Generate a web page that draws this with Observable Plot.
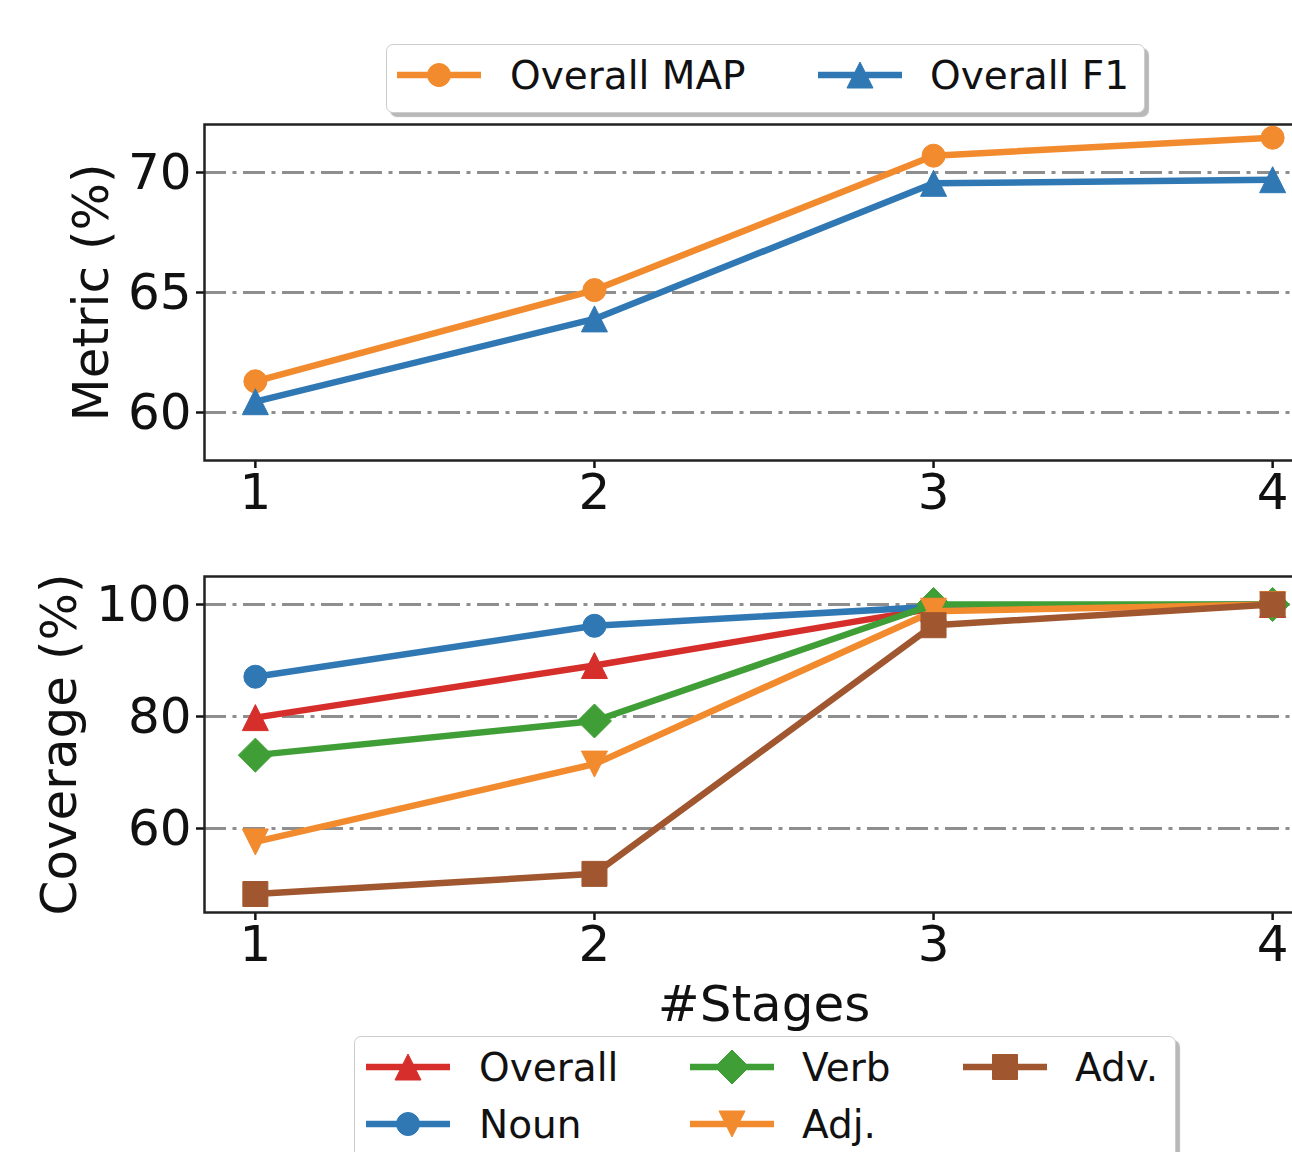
<!DOCTYPE html>
<html><head><meta charset="utf-8">
<script src="https://cdn.jsdelivr.net/npm/d3@7"></script>
<script src="https://cdn.jsdelivr.net/npm/@observablehq/plot@0.6"></script>
<style>
html,body{margin:0;padding:0;background:#fff;overflow:hidden;}
#wrap{position:relative;width:1292px;height:1152px;overflow:hidden;font-family:"DejaVu Sans",sans-serif;}
#wrap svg.chartsvg{position:absolute;left:0;max-width:none !important;}
.legend{position:absolute;box-sizing:border-box;border:1.5px solid #cdcdcd;border-radius:7px;background:#fff;box-shadow:4px 4px 1px rgba(0,0,0,0.28);}
.item{position:absolute;display:flex;align-items:center;height:50px;font-size:39px;color:#111;white-space:nowrap;}
</style></head><body><div id="wrap"></div>
<script>
// ---------- data ----------
const stages = [1, 2, 3, 4];
const stageTicks = [1, 2, 3, 4];

const metricNames = ["Overall MAP", "Overall F1"];
const overallMAP = [61.3, 65.1, 70.7, 71.45];
const overallF1 = [60.45, 63.9, 69.55, 69.7];
const metricTicks = [60, 65, 70];

const coverageNames = ["Overall", "Noun", "Verb", "Adj.", "Adv."];
const covOverall = [79.8, 89.1, 99.3, 100];
const covNoun = [87.1, 96.2, 99.6, 100];
const covVerb = [73.1, 79.2, 100, 100];
const covAdj = [57.6, 71.5, 98.8, 100];
const covAdv = [48.3, 51.9, 96.3, 100];
const coverageTicks = [60, 80, 100];

// ---------- styles ----------
const metricStyle = [
  {color: "#f28a2e", shape: "circle", r: 11.5},
  {color: "#2f78b4", shape: "up", r: 13}
];
const coverageStyle = [
  {color: "#d62f2b", shape: "up", r: 13},
  {color: "#2f78b4", shape: "circle", r: 11.5},
  {color: "#3f9e35", shape: "diamond", r: 17},
  {color: "#f28a2e", shape: "down", r: 13},
  {color: "#a0562f", shape: "square", r: 12.5}
];

function shapePath(ctx, shape, r) {
  switch (shape) {
    case "circle": ctx.moveTo(r, 0); ctx.arc(0, 0, r, 0, 2 * Math.PI); break;
    case "up": ctx.moveTo(0, -r); ctx.lineTo(r, r); ctx.lineTo(-r, r); ctx.closePath(); break;
    case "down": ctx.moveTo(0, r); ctx.lineTo(r, -r); ctx.lineTo(-r, -r); ctx.closePath(); break;
    case "square": ctx.moveTo(-r, -r); ctx.lineTo(r, -r); ctx.lineTo(r, r); ctx.lineTo(-r, r); ctx.closePath(); break;
    case "diamond": ctx.moveTo(0, -r); ctx.lineTo(r, 0); ctx.lineTo(0, r); ctx.lineTo(-r, 0); ctx.closePath(); break;
  }
}
const makeSymbol = shape => ({draw(ctx, size) { shapePath(ctx, shape, Math.sqrt(size / Math.PI)); }});

const FONT = "DejaVu Sans";
const FS = 50;
const gridStyle = {stroke: "#8e8e8e", strokeWidth: 3, strokeDasharray: "22,6.5,4,6.5"};

function seriesMarks(names, values, styles) {
  const marks = [];
  names.forEach((name, k) => {
    const data = stages.map((s, i) => ({series: name, x: s, y: values[k][i]}));
    const st = styles[k];
    marks.push(Plot.line(data, {x: "x", y: "y", stroke: st.color, strokeWidth: 6.5, strokeLinejoin: "round"}));
    marks.push(Plot.dot(data, {x: "x", y: "y", fill: st.color, stroke: st.color, strokeWidth: 1, r: st.r, symbol: makeSymbol(st.shape)}));
  });
  return marks;
}

const wrap = document.getElementById("wrap");

// ---------- top panel ----------
const topChart = Plot.plot({
  width: 1330, height: 530,
  marginLeft: 204, marginRight: 7, marginTop: 124, marginBottom: 70,
  style: {fontFamily: FONT, color: "#111", background: "transparent", overflow: "visible"},
  x: {domain: [0.85, 4.15]},
  y: {domain: [58, 72]},
  marks: [
    Plot.ruleY(metricTicks, gridStyle),
    ...seriesMarks(metricNames, [overallMAP, overallF1], metricStyle),
    Plot.axisX(stageTicks, {tickSize: 8, tickPadding: 5, fontSize: FS, strokeWidth: 2.5, label: null, tickFormat: d => String(d)}),
    Plot.axisY(metricTicks, {tickSize: 8, tickPadding: 5, fontSize: FS, strokeWidth: 2.5, label: null, tickFormat: d => String(d)}),
    Plot.text(["Metric (%)"], {text: d => d, frameAnchor: "left", dx: -113, rotate: -90, fontSize: FS, textAnchor: "middle", lineAnchor: "middle", fill: "#111"}),
    Plot.frame({stroke: "#222", strokeWidth: 2.5})
  ]
});
topChart.classList.add("chartsvg");
topChart.style.top = "0px";
wrap.appendChild(topChart);

// ---------- bottom panel ----------
const bottomChart = Plot.plot({
  width: 1330, height: 622,
  marginLeft: 204, marginRight: 7, marginTop: 46, marginBottom: 240,
  style: {fontFamily: FONT, color: "#111", background: "transparent", overflow: "visible"},
  x: {domain: [0.85, 4.15]},
  y: {domain: [45, 105]},
  marks: [
    Plot.ruleY(coverageTicks, gridStyle),
    ...seriesMarks(coverageNames, [covOverall, covNoun, covVerb, covAdj, covAdv], coverageStyle),
    Plot.axisX(stageTicks, {tickSize: 8, tickPadding: 5, fontSize: FS, strokeWidth: 2.5, label: null, tickFormat: d => String(d)}),
    Plot.axisY(coverageTicks, {tickSize: 8, tickPadding: 5, fontSize: FS, strokeWidth: 2.5, label: null, tickFormat: d => String(d)}),
    Plot.text(["Coverage (%)"], {text: d => d, frameAnchor: "left", dx: -145, rotate: -90, fontSize: FS, textAnchor: "middle", lineAnchor: "middle", fill: "#111"}),
    Plot.text(["#Stages"], {text: d => d, frameAnchor: "bottom", dy: 92, fontSize: FS, textAnchor: "middle", lineAnchor: "middle", fill: "#111"}),
    Plot.frame({stroke: "#222", strokeWidth: 2.5})
  ]
});
bottomChart.classList.add("chartsvg");
bottomChart.style.top = "530px";
wrap.appendChild(bottomChart);

// ---------- legends ----------
function legendBox(left, topPx, w, h) {
  const d = document.createElement("div");
  d.className = "legend";
  Object.assign(d.style, {left: left + "px", top: topPx + "px", width: w + "px", height: h + "px"});
  wrap.appendChild(d);
}
function legendItem(name, st, lineX, cy, textX) {
  const d = document.createElement("div");
  d.className = "item";
  Object.assign(d.style, {left: lineX + "px", top: (cy - 25) + "px"});
  const svg = d3.create("svg").attr("width", 84).attr("height", 50).style("overflow", "visible");
  svg.append("line").attr("x1", 0).attr("x2", 84).attr("y1", 25).attr("y2", 25)
    .attr("stroke", st.color).attr("stroke-width", 6.5);
  const p = d3.path(); shapePath(p, st.shape, st.r);
  svg.append("path").attr("d", p.toString()).attr("transform", "translate(42,25)")
    .attr("fill", st.color).attr("stroke", st.color).attr("stroke-width", 1);
  d.appendChild(svg.node());
  const t = document.createElement("span");
  t.textContent = name;
  t.style.marginLeft = (textX - lineX - 84) + "px";
  d.appendChild(t);
  wrap.appendChild(d);
}

legendBox(386, 44, 759, 69);
const topLegendPos = [[397, 75, 510], [818, 75, 930]];
metricNames.forEach((n, k) => legendItem(n, metricStyle[k], ...topLegendPos[k]));

legendBox(354, 1036, 822, 150);
const bottomLegendPos = [[366, 1067, 479], [366, 1124, 479], [690, 1067, 802], [690, 1124, 802], [963, 1067, 1075]];
coverageNames.forEach((n, k) => legendItem(n, coverageStyle[k], ...bottomLegendPos[k]));
</script></body></html>
